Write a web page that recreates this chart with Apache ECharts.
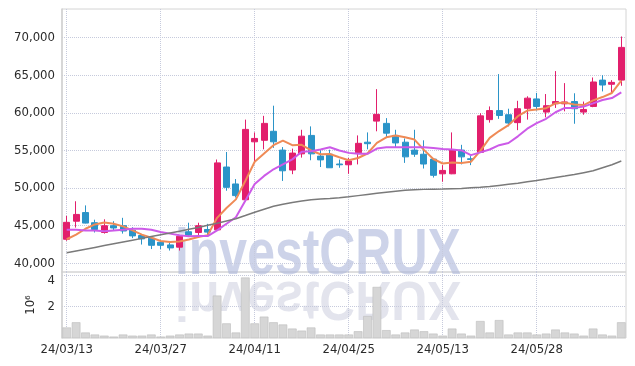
<!DOCTYPE html>
<html>
<head>
<meta charset="utf-8">
<script src="https://cdn.jsdelivr.net/npm/echarts@6/dist/echarts.min.js"></script>
<style>
html,body{margin:0;padding:0;background:#fff;}
#main{width:635px;height:366px;}
</style>
</head>
<body>
<div id="main"></div>
<script>
// trading days
const dates = [
  '24/03/13','24/03/14','24/03/15','24/03/18','24/03/19','24/03/20','24/03/21','24/03/22','24/03/25','24/03/26',
  '24/03/27','24/03/28','24/03/29','24/04/01','24/04/02','24/04/03','24/04/04','24/04/05','24/04/08','24/04/09',
  '24/04/11','24/04/12','24/04/15','24/04/16','24/04/17','24/04/18','24/04/19','24/04/22','24/04/23','24/04/24',
  '24/04/25','24/04/26','24/04/29','24/04/30','24/05/02','24/05/03','24/05/07','24/05/08','24/05/09','24/05/10',
  '24/05/13','24/05/14','24/05/16','24/05/17','24/05/20','24/05/21','24/05/22','24/05/23','24/05/24','24/05/27',
  '24/05/28','24/05/29','24/05/30','24/05/31','24/06/03','24/06/04','24/06/05','24/06/07','24/06/10','24/06/11'
];
const opens = [
  43200,45600,46750,45400,44100,45000,45000,44400,43700,43350,
  42800,42450,42150,44200,44100,44500,44450,52800,50550,48450,
  56150,56350,57550,55050,52400,54550,57000,54250,54500,53200,
  53100,54700,56100,58900,58600,57000,56100,55050,54500,53850,
  51900,51900,55050,53900,54750,59100,60300,59750,58700,60600,
  61850,60100,61200,61200,61500,60100,60850,64350,63800,64350
];
const closes = [
  45450,46500,45350,44500,45000,44700,44300,43650,43250,42400,
  42400,42050,43600,43750,45000,44150,53350,50100,49000,57800,
  56600,58600,56150,52300,54650,56900,54550,53750,52700,53100,
  53600,55950,55900,59800,57300,56000,54150,54500,53200,51700,
  52350,55050,54150,53800,59600,60300,59650,58650,60550,61950,
  60850,60950,61500,61450,60550,60450,64100,63700,64050,68700
];
const lows = [
  43000,44750,45300,44100,43950,44300,43950,43350,42500,41900,
  41900,41700,41700,43550,43650,43700,44300,49650,48750,48250,
  53600,55150,55350,50950,51850,54050,53700,52800,52700,52700,
  51900,53150,55150,57550,56650,55450,53350,54150,52600,51400,
  50850,51850,53150,53050,54700,58700,59200,58200,57700,59100,
  60300,59400,60650,60200,58550,59750,60750,62850,62700,63600
];
const highs = [
  46300,48250,47700,45800,45850,45600,46050,44800,43850,43500,
  43000,42800,43700,45400,45400,45250,53800,54800,51200,59100,
  57400,59600,60950,55450,55250,57750,58200,55150,55100,53800,
  54000,57000,57400,63150,59300,57750,56600,57750,56350,53900,
  53050,57400,55750,54250,59950,60850,65150,60550,61600,62200,
  62650,62500,65550,63950,62600,61500,64700,65000,64350,70150
];
// moving averages as drawn
const ma5 = [
  43200,43810,44600,45170,45430,45260,44910,44380,43810,43420,
  42970,42840,42890,43160,43500,43750,46050,47350,48500,50950,
  53500,54600,55700,56300,55700,55750,55000,54500,54530,54100,
  53700,54000,54600,56000,56750,57000,56750,56450,55080,53870,
  53270,53400,53350,53500,54950,56680,57580,58370,59550,60300,
  60430,60620,61270,61360,61120,61030,61660,62100,62640,64270
];
const ma20 = [
  44470,44470,44380,44380,44250,44380,44470,44600,44600,44470,
  44160,43950,43720,43590,43630,43630,44380,45260,46130,48330,
  50530,51620,52500,53160,53820,54820,54910,55130,55430,55000,
  54680,54550,54550,55260,55430,55430,55430,55430,55430,55340,
  55210,55130,55000,54380,54750,55130,55700,56000,56880,57890,
  58630,59210,60080,60660,60660,60830,61260,61710,61970,62710
];
const maLong = [
  41400,41640,41880,42120,42360,42600,42840,43080,43320,43560,
  43800,44040,44280,44520,44760,45050,45340,45630,45920,46350,
  46790,47200,47580,47850,48100,48280,48460,48550,48630,48720,
  48850,49000,49150,49300,49450,49580,49700,49780,49830,49860,
  49880,49920,49960,50030,50100,50200,50350,50500,50650,50850,
  51000,51200,51420,51600,51800,52050,52300,52700,53100,53600
];
// volume, millions of shares
const volumes = [
  0.67,1.0,0.35,0.22,0.15,0.09,0.22,0.15,0.15,0.22,
  0.09,0.15,0.22,0.28,0.28,0.15,2.7,0.93,0.35,3.85,
  0.93,1.36,1.0,0.86,0.6,0.47,0.67,0.22,0.22,0.22,
  0.22,0.43,1.4,3.25,0.5,0.22,0.35,0.54,0.43,0.28,
  0.15,0.6,0.28,0.15,1.08,0.35,1.14,0.22,0.35,0.35,
  0.22,0.28,0.54,0.35,0.28,0.15,0.6,0.22,0.15,1.0
];
const priceTicks = [40000,45000,50000,55000,60000,65000,70000];
const volTicks = [2,4];

const font = 'DejaVu Sans Condensed';
const gridLine = {show:true, lineStyle:{color:'#c6cadc', type:'dotted', width:1}};

let candles = dates.map((d,i) => [opens[i], closes[i], lows[i], highs[i]]);

let myChart = echarts.init(document.getElementById('main'));
let option = {
    animation: false,
    backgroundColor: '#fff',
    grid: [
        {left:62, right:9, top:9, height:263, show:true, borderColor:'#d4d4d4', borderWidth:1},
        {left:62, right:9, top:272, height:66, show:true, borderColor:'#d4d4d4', borderWidth:1}
    ],
    xAxis: [
        {
            type:'category', gridIndex:0, data:dates, boundaryGap:true,
            axisLine:{show:false}, axisTick:{show:false, alignWithLabel:true, interval:9},
            axisLabel:{show:false, interval:9},
            splitLine:{show:true, interval:9, alignWithLabel:true, lineStyle:gridLine.lineStyle}
        },
        {
            type:'category', gridIndex:1, data:dates, boundaryGap:true,
            axisLine:{show:false}, axisTick:{show:false, alignWithLabel:true, interval:9},
            axisLabel:{show:true, interval:9, color:'#2a2a2a', fontSize:13, fontFamily:font, margin:5},
            splitLine:{show:true, interval:9, alignWithLabel:true, lineStyle:gridLine.lineStyle}
        }
    ],
    yAxis: [
        {
            type:'value', gridIndex:0, min:38850, max:73800,
            axisLine:{show:true, lineStyle:{color:'#d0d0d0', width:1.5}},
            axisTick:{show:false, customValues:priceTicks},
            axisLabel:{customValues:priceTicks, color:'#2a2a2a', fontSize:13, fontFamily:font, margin:7,
                formatter: v => v.toLocaleString('en-US')},
            splitLine:gridLine
        },
        {
            type:'value', gridIndex:1, min:0, max:4.2,
            name:'10⁶', nameLocation:'middle', nameGap:20, nameRotate:90,
            nameTextStyle:{color:'#2a2a2a', fontSize:13, fontFamily:font},
            axisLine:{show:true, lineStyle:{color:'#d0d0d0', width:1.5}},
            axisTick:{show:false, customValues:volTicks},
            axisLabel:{customValues:volTicks, color:'#2a2a2a', fontSize:13, fontFamily:font, margin:7,
                formatter: v => v === 4 ? '{low|4}' : String(v),
                rich:{low:{fontSize:13, fontFamily:font, color:'#2a2a2a', padding:[10,0,0,0]}}},
            splitLine:gridLine
        }
    ],
    graphic: [
        {
            type:'text', x:175, y:256, scaleX:0.78, z:0, silent:true,
            style:{text:'investCRUX', font:'bold 64px "Liberation Sans"', fill:'rgba(172,182,218,0.6)',
                align:'left', verticalAlign:'middle'}
        },
        {
            type:'text', x:175, y:297, scaleX:0.78, scaleY:-0.86, z:0, silent:true,
            style:{text:'investCRUX', font:'bold 64px "Liberation Sans"', fill:'rgba(188,190,212,0.42)',
                align:'left', verticalAlign:'middle'}
        }
    ],
    series: [
        {
            name:'price', type:'candlestick', xAxisIndex:0, yAxisIndex:0, data:candles,
            barWidth:6.5, clip:false,
            itemStyle:{color:'#e21f6c', borderColor:'#e21f6c', color0:'#2b94c8', borderColor0:'#2b94c8', borderWidth:1}
        },
        {
            name:'MA5', type:'line', xAxisIndex:0, yAxisIndex:0, data:ma5, symbol:'none',
            lineStyle:{color:'#ef8a56', width:2}
        },
        {
            name:'MA20', type:'line', xAxisIndex:0, yAxisIndex:0, data:ma20, symbol:'none',
            lineStyle:{color:'#cc5ae8', width:2}
        },
        {
            name:'MA120', type:'line', xAxisIndex:0, yAxisIndex:0, data:maLong, symbol:'none',
            lineStyle:{color:'#7a7a7a', width:1.5}
        },
        {
            name:'volume', type:'bar', xAxisIndex:1, yAxisIndex:1, data:volumes,
            barCategoryGap:'8%',
            itemStyle:{color:'#d6d6d6', borderColor:'#bcbcbc', borderWidth:0.6}
        }
    ]
};
myChart.setOption(option);

window.addEventListener('resize', function(){
    myChart.resize();
}, false);
</script>
</body>
</html>
